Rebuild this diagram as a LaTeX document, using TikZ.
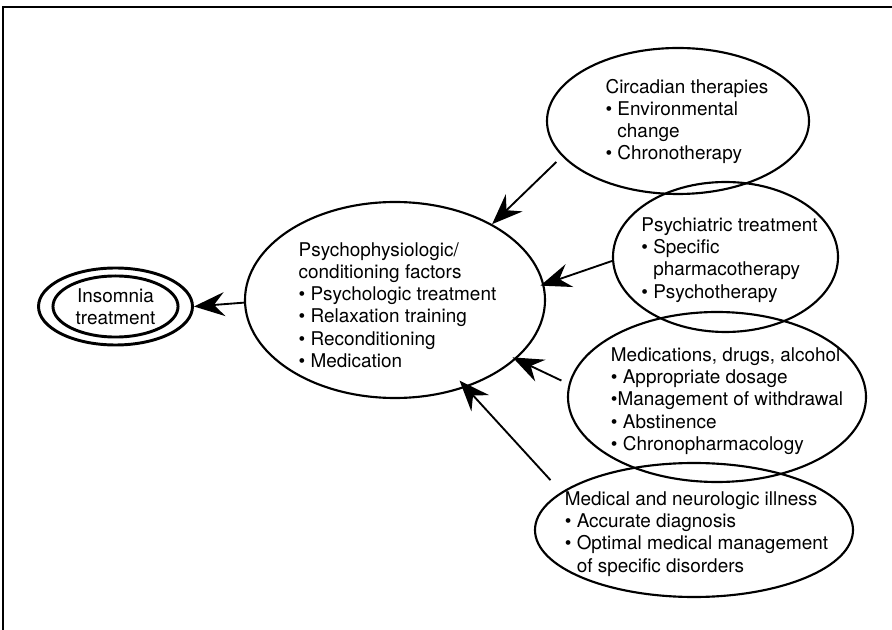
\documentclass[tikz,border=0pt]{standalone}
\usepackage{fontspec}
\setmainfont{TeX Gyre Heros}
\usetikzlibrary{shapes.geometric,arrows.meta}

\newcommand{\bull}{\textbullet\ }
\newcommand{\contline}{\phantom{\textbullet\ }}

\begin{document}
\begin{tikzpicture}[x=0.75pt, y=-0.75pt,
bubble/.style={ellipse, draw, line width=1.6pt, inner sep=0pt},
blurb/.style={align=left, inner sep=0pt, font=\fontsize{14.2pt}{16.7pt}\selectfont},
feeds/.style={-{Stealth[length=23pt, width=18pt, inset=8pt]}, line width=1.4pt}
]
    \useasboundingbox (0,0) rectangle (892,630);
    %Frame
    \draw[line width=2.2pt] (892,7) -- (3,7) -- (3,630);

    %Ellipses
    \node[bubble, blurb, align=center, line width=2.2pt, minimum width=115.5pt, minimum height=57.75pt]
        (ins) at (115.5,306.5) {Insomnia\\treatment};
    \draw[line width=2.2pt] (ins.center) ellipse [x radius=46.9pt, y radius=22.9pt];
    \node[bubble, minimum width=225pt, minimum height=147pt]
        (main) at (395,300) {};
    \node[bubble, minimum width=196.5pt, minimum height=109.5pt]
        (circ) at (678,121) {};
    \node[bubble, minimum width=168.75pt, minimum height=112.5pt]
        (psy) at (725.5,257) {};
    \node[bubble, minimum width=223.5pt, minimum height=127.5pt]
        (meds) at (717,397) {};
    \node[bubble, minimum width=238.5pt, minimum height=100.5pt]
        (ill) at (694,530) {};

    %Texts
    \node[blurb] (main-t) at (397.5,305) {Psychophysiologic/\\conditioning factors\\
        \bull Psychologic treatment\\\bull Relaxation training\\\bull Reconditioning\\\bull Medication};
    \node[blurb] (circ-t) at (687,121.5) {Circadian therapies\\\bull Environmental\\
        \contline change\\\bull Chronotherapy};
    \node[blurb] (psy-t) at (729.5,260) {Psychiatric treatment\\\bull Specific\\
        \contline pharmacotherapy\\\bull Psychotherapy};
    \node[blurb] (meds-t) at (727,401) {Medications, drugs, alcohol\\\bull Appropriate dosage\\
        \textbullet Management of withdrawal\\\bull Abstinence\\\bull Chronopharmacology};
    \node[blurb] (ill-t) at (696.5,534) {Medical and neurologic illness\\\bull Accurate diagnosis\\
        \bull Optimal medical management\\\contline of specific disorders};

    %Lines
    \draw[feeds] (main.181) -- (ins.east);
    \draw[feeds, shorten <=6pt] (circ.197.8) -- (main.38.6);
    \draw[feeds, shorten >=-3pt] (psy.182.9) -- (main.6.5);
    \draw[feeds, shorten <=6pt, shorten >=-3pt] (meds.175.4) -- (main.334.2);
    \draw[feeds, shorten <=12pt, shorten >=-7pt] (ill.164.5) -- (main.309.9);
\end{tikzpicture}
\end{document}
